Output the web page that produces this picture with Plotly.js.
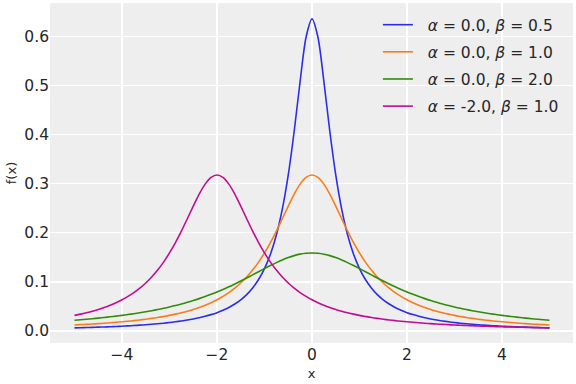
<!DOCTYPE html>
<html><head><meta charset="utf-8">
<script src="https://cdn.plot.ly/plotly-3.0.1.min.js"></script>
<style>html,body{margin:0;padding:0;background:#fff}#chart{width:576px;height:384px}</style>
</head><body><div id="chart"></div>
<script>
const xs = [-5,-4.875,-4.75,-4.625,-4.5,-4.375,-4.25,-4.125,-4,-3.875,-3.75,-3.625,-3.5,-3.375,-3.25,-3.125,-3,-2.875,-2.75,-2.625,-2.5,-2.375,-2.25,-2.125,-2,-1.875,-1.75,-1.625,-1.5,-1.375,-1.25,-1.125,-1,-0.875,-0.75,-0.625,-0.5,-0.375,-0.25,-0.125,0,0.125,0.25,0.375,0.5,0.625,0.75,0.875,1,1.125,1.25,1.375,1.5,1.625,1.75,1.875,2,2.125,2.25,2.375,2.5,2.625,2.75,2.875,3,3.125,3.25,3.375,3.5,3.625,3.75,3.875,4,4.125,4.25,4.375,4.5,4.625,4.75,4.875,5];
const blue = [0.0063,0.0066,0.0070,0.0074,0.0078,0.0082,0.0087,0.0092,0.0098,0.0104,0.0111,0.0119,0.0127,0.0137,0.0147,0.0159,0.0172,0.0187,0.0204,0.0223,0.0245,0.0270,0.0300,0.0334,0.0374,0.0423,0.0480,0.0551,0.0637,0.0743,0.0878,0.1050,0.1273,0.1567,0.1959,0.2484,0.3183,0.4074,0.5093,0.5992,0.6366,
  0.5992,0.5093,0.4074,0.3183,0.2484,0.1959,0.1567,0.1273,0.1050,0.0878,0.0743,0.0637,0.0551,0.0480,0.0423,0.0374,0.0334,0.0300,0.0270,0.0245,0.0223,0.0204,0.0187,0.0172,0.0159,0.0147,0.0137,0.0127,0.0119,0.0111,0.0104,0.0098,0.0092,0.0087,0.0082,0.0078,0.0074,0.0070,0.0066,0.0063];
const orange = [0.0122,0.0129,0.0135,0.0142,0.0150,0.0158,0.0167,0.0177,0.0187,0.0199,0.0211,0.0225,0.0240,0.0257,0.0275,0.0296,0.0318,0.0344,0.0372,0.0403,0.0439,0.0479,0.0525,0.0577,0.0637,0.0705,0.0784,0.0874,0.0979,0.1101,0.1242,0.1405,0.1592,0.1803,0.2037,0.2289,0.2546,0.2791,0.2996,0.3134,0.3183,
  0.3134,0.2996,0.2791,0.2546,0.2289,0.2037,0.1803,0.1592,0.1405,0.1242,0.1101,0.0979,0.0874,0.0784,0.0705,0.0637,0.0577,0.0525,0.0479,0.0439,0.0403,0.0372,0.0344,0.0318,0.0296,0.0275,0.0257,0.0240,0.0225,0.0211,0.0199,0.0187,0.0177,0.0167,0.0158,0.0150,0.0142,0.0135,0.0129,0.0122];
const green = [0.0220,0.0229,0.0240,0.0251,0.0263,0.0275,0.0289,0.0303,0.0318,0.0335,0.0352,0.0371,0.0392,0.0414,0.0437,0.0462,0.0490,0.0519,0.0551,0.0585,0.0621,0.0660,0.0702,0.0748,0.0796,0.0847,0.0901,0.0959,0.1019,0.1081,0.1144,0.1209,0.1273,0.1336,0.1395,0.1450,0.1498,0.1537,0.1567,0.1585,0.1592,
  0.1585,0.1567,0.1537,0.1498,0.1450,0.1395,0.1336,0.1273,0.1209,0.1144,0.1081,0.1019,0.0959,0.0901,0.0847,0.0796,0.0748,0.0702,0.0660,0.0621,0.0585,0.0551,0.0519,0.0490,0.0462,0.0437,0.0414,0.0392,0.0371,0.0352,0.0335,0.0318,0.0303,0.0289,0.0275,0.0263,0.0251,0.0240,0.0229,0.0220];
const magenta = [0.0318,0.0344,0.0372,0.0403,0.0439,0.0479,0.0525,0.0577,0.0637,0.0705,0.0784,0.0874,0.0979,0.1101,0.1242,0.1405,0.1592,0.1803,0.2037,0.2289,0.2546,0.2791,0.2996,0.3134,0.3183,
  0.3134,0.2996,0.2791,0.2546,0.2289,0.2037,0.1803,0.1592,0.1405,0.1242,0.1101,0.0979,0.0874,0.0784,0.0705,0.0637,0.0577,0.0525,0.0479,0.0439,0.0403,0.0372,0.0344,0.0318,0.0296,0.0275,0.0257,0.0240,0.0225,0.0211,0.0199,0.0187,0.0177,0.0167,0.0158,0.0150,0.0142,0.0135,0.0129,0.0122,
  0.0117,0.0111,0.0107,0.0102,0.0098,0.0093,0.0090,0.0086,0.0083,0.0080,0.0076,0.0074,0.0071,0.0068,0.0066,0.0064];
const names = ['<i>α</i> = 0.0, <i>β</i> = 0.5','<i>α</i> = 0.0, <i>β</i> = 1.0','<i>α</i> = 0.0, <i>β</i> = 2.0','<i>α</i> = -2.0, <i>β</i> = 1.0'];
const colors = ['#2a2eec','#fa7c17','#328c06','#c10c90'];
const series = [blue, orange, green, magenta];
const traces = series.map((ys,i)=>({x:xs,y:ys,type:'scatter',mode:'lines',name:'\u00a0\u00a0'+names[i],legendgroup:'g'+i,
  line:{color:colors[i],width:1.6,shape:'spline',smoothing:0.8}}));
const font = {family:'DejaVu Sans, sans-serif',color:'#262626'};
Plotly.newPlot('chart',traces,{
  width:576,height:384,
  margin:{l:50,r:3,t:3,b:41},
  paper_bgcolor:'#ffffff',plot_bgcolor:'#eeeeee',
  font:Object.assign({size:15},font),
  showlegend:true,
  legend:{x:0.627,y:0.985,xanchor:'left',yanchor:'top',bgcolor:'rgba(0,0,0,0)',font:{size:15.5,color:'#262626'},tracegroupgap:4,itemwidth:30},
  xaxis:{range:[-5.516,5.495],tickvals:[-4,-2,0,2,4],ticktext:['−4','−2','0','2','4'],showgrid:true,gridcolor:'#ffffff',gridwidth:1.1,zeroline:false,showline:false,ticks:'',tickfont:{size:15.5},
    title:{text:'x',font:{size:13},standoff:6}},
  yaxis:{range:[-0.0245,0.669],tickvals:[0,0.1,0.2,0.3,0.4,0.5,0.6],ticktext:['0.0','0.1','0.2','0.3','0.4','0.5','0.6'],showgrid:true,gridcolor:'#ffffff',gridwidth:1.1,zeroline:false,showline:false,ticks:'',tickfont:{size:15.5},
    title:{text:'f(x)',font:{size:13},standoff:4}}
},{displayModeBar:false,staticPlot:true});
</script></body></html>
